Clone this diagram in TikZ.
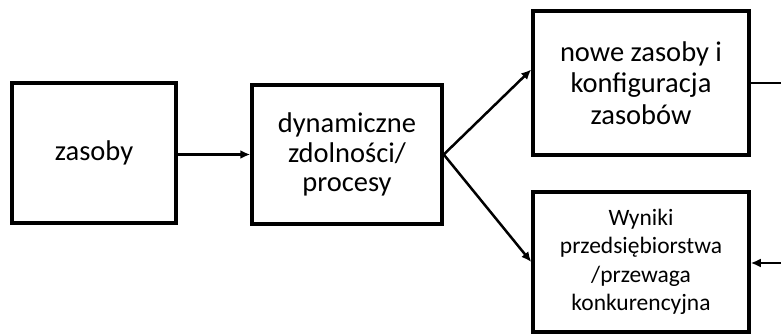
\documentclass[tikz,border=0pt]{standalone}
\usepackage{fontspec}
\setmainfont{Carlito}
\usetikzlibrary{arrows.meta}

\tikzset{
  blok/.style={draw, line width=3.5pt, align=center, inner sep=0pt,
    font=\fontsize{28.5}{29.5}\selectfont},
  strzalka/.style={line width=2.5pt, -{Latex[length=10pt,width=9pt]}},
  linia/.style={line width=2.5pt},
}

\begin{document}
\begin{tikzpicture}[x=1pt,y=-1pt]
    \useasboundingbox (0,0) rectangle (781,334) ;

    \node [blok, minimum width=164pt, minimum height=140pt] (zasoby) at (94,153) {zasoby} ;
    \node [blok, minimum width=190pt, minimum height=139pt] (dynamiczne) at (347,154.5)
      {dynamiczne\\zdolności/\\procesy} ;
    \node [blok, minimum width=216pt, minimum height=144pt, font=\fontsize{28.5}{31.5}\selectfont]
      (nowe) at (641,83) {nowe zasoby i\\konfiguracja\\zasobów} ;
    \node [blok, minimum width=216pt, minimum height=140pt, font=\fontsize{23.5}{28.5}\selectfont]
      (wyniki) at (641,262) {Wyniki\\przedsiębiorstwa\\/przewaga\\konkurencyjna} ;

    \coordinate (wyjscie) at (781,83) ;
    \coordinate (wejscie) at (781,263) ;

    \draw [strzalka] (zasoby.east |- dynamiczne.west) -- (dynamiczne.west) ;
    \draw [strzalka] (dynamiczne.east) -- (nowe.173) ;
    \draw [strzalka] (dynamiczne.east) -- (wyniki.west) ;
    \draw [linia] (nowe.east) -- (wyjscie) ;
    \draw [strzalka] (wejscie) -- (wejscie -| wyniki.east) ;

\end{tikzpicture}
\end{document}
